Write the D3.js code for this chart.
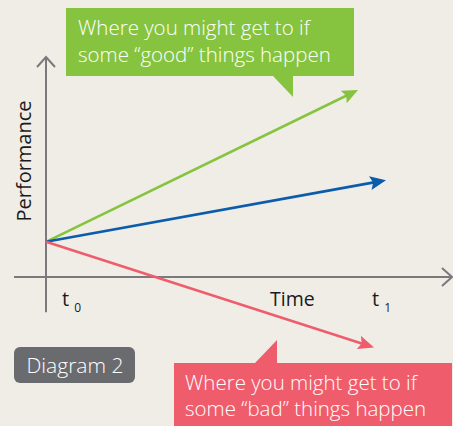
<!DOCTYPE html>
<html>
<head>
<meta charset="utf-8">
<script src="https://cdn.jsdelivr.net/npm/d3@7"></script>
<style>
  html, body { margin: 0; padding: 0; background: #f0ede7; }
  svg { display: block; font-family: "Open Sans", sans-serif; }
</style>
</head>
<body>
<div id="chart"></div>
<script>
// scenarios drawn from the shared starting point at t0
const scenarios = ['good', 'expected', 'bad'];
const startX = 0;
const startY = 16;
const endX = [78, 85, 82];
const endY = [85, 44, -32];
const lineColors = ['#86c440', '#0b5cab', '#ef5d6c'];

// time axis labels
const tickValues = [4, 81.5];
const tickLabels = ['t', 't'];
const tickSubs = ['0', '1'];

const goodText = ['Where you might get to if', 'some \u201cgood\u201d things happen'];
const badText = ['Where you might get to if', 'some \u201cbad\u201d things happen'];

const width = 453;
const height = 426;

const x = d3.scaleLinear().domain([0, 100]).range([46, 446]);
const y = d3.scaleLinear().domain([0, 100]).range([277, 57]);

const svg = d3.select('#chart').append('svg')
  .attr('width', width)
  .attr('height', height);

svg.append('rect').attr('width', width).attr('height', height).attr('fill', '#f0ede7');

const defs = svg.append('defs');
scenarios.forEach((s, i) => {
  defs.append('marker')
    .attr('id', 'arrow-' + s)
    .attr('markerUnits', 'userSpaceOnUse')
    .attr('markerWidth', 18)
    .attr('markerHeight', 14)
    .attr('refX', 8)
    .attr('refY', 7)
    .attr('orient', 'auto')
    .append('path')
    .attr('d', 'M0,0 L16,7 L0,14 L3,7 z')
    .attr('fill', lineColors[i]);
});

// axes
const axisColor = '#7a7a7c';
svg.append('line')
  .attr('x1', x(0)).attr('y1', y(-16))
  .attr('x2', x(0)).attr('y2', y(100))
  .attr('stroke', axisColor).attr('stroke-width', 2);
svg.append('path')
  .attr('d', `M${x(0) - 9},${y(100) + 10} L${x(0)},${y(100)} L${x(0) + 9},${y(100) + 10}`)
  .attr('fill', 'none').attr('stroke', axisColor).attr('stroke-width', 2);

svg.append('line')
  .attr('x1', x(-8)).attr('y1', y(0))
  .attr('x2', x(101.5)).attr('y2', y(0))
  .attr('stroke', axisColor).attr('stroke-width', 2);
svg.append('path')
  .attr('d', `M${x(101.5) - 10},${y(0) - 9} L${x(101.5)},${y(0)} L${x(101.5) - 10},${y(0) + 9}`)
  .attr('fill', 'none').attr('stroke', axisColor).attr('stroke-width', 2);

// scenario lines, shortened a little so the arrowhead covers the end
scenarios.forEach((s, i) => {
  const x0 = x(startX), y0 = y(startY);
  const x1 = x(endX[i]), y1 = y(endY[i]);
  const len = Math.hypot(x1 - x0, y1 - y0);
  const k = (len - 8) / len;
  svg.append('line')
    .attr('x1', x0).attr('y1', y0)
    .attr('x2', x0 + (x1 - x0) * k).attr('y2', y0 + (y1 - y0) * k)
    .attr('stroke', lineColors[i])
    .attr('stroke-width', 2.6)
    .attr('marker-end', `url(#arrow-${s})`);
});

// tick labels t0, t1
tickValues.forEach((v, i) => {
  const t = svg.append('text')
    .attr('x', x(v))
    .attr('y', 306)
    .attr('font-size', 20)
    .attr('fill', '#1a1a1a');
  t.append('tspan').text(tickLabels[i]);
  t.append('tspan').attr('dx', 5).attr('dy', 6).attr('font-size', 12).text(tickSubs[i]);
});

svg.append('text')
  .attr('x', 270).attr('y', 306)
  .attr('font-size', 19.5)
  .attr('fill', '#1a1a1a')
  .text('Time');

svg.append('text')
  .attr('transform', 'translate(31,161) rotate(-90)')
  .attr('text-anchor', 'middle')
  .attr('font-size', 20)
  .attr('fill', '#1a1a1a')
  .text('Performance');

// green callout
svg.append('path')
  .attr('d', 'M66,8 H354 V76 H293 V97 L273,76 H66 Z')
  .attr('fill', '#86c440');
goodText.forEach((line, i) => {
  svg.append('text')
    .attr('x', 78).attr('y', 35 + i * 27)
    .attr('font-size', 20.5)
    .attr('font-weight', 300)
    .attr('fill', '#fff')
    .text(line);
});

// red callout
svg.append('path')
  .attr('d', 'M174,363 H255 L277,340 V363 H452 V426 H174 Z')
  .attr('fill', '#ef5d6c');
badText.forEach((line, i) => {
  svg.append('text')
    .attr('x', 185).attr('y', 390 + i * 26)
    .attr('font-size', 20.5)
    .attr('font-weight', 300)
    .attr('fill', '#fff')
    .text(line);
});

// diagram badge
svg.append('rect')
  .attr('x', 14).attr('y', 347)
  .attr('width', 121).attr('height', 36)
  .attr('rx', 6)
  .attr('fill', '#6a6b6f');
svg.append('text')
  .attr('x', 75).attr('y', 373)
  .attr('text-anchor', 'middle')
  .attr('font-size', 21)
  .attr('font-weight', 300)
  .attr('fill', '#fff')
  .text('Diagram 2');
</script>
</body>
</html>
